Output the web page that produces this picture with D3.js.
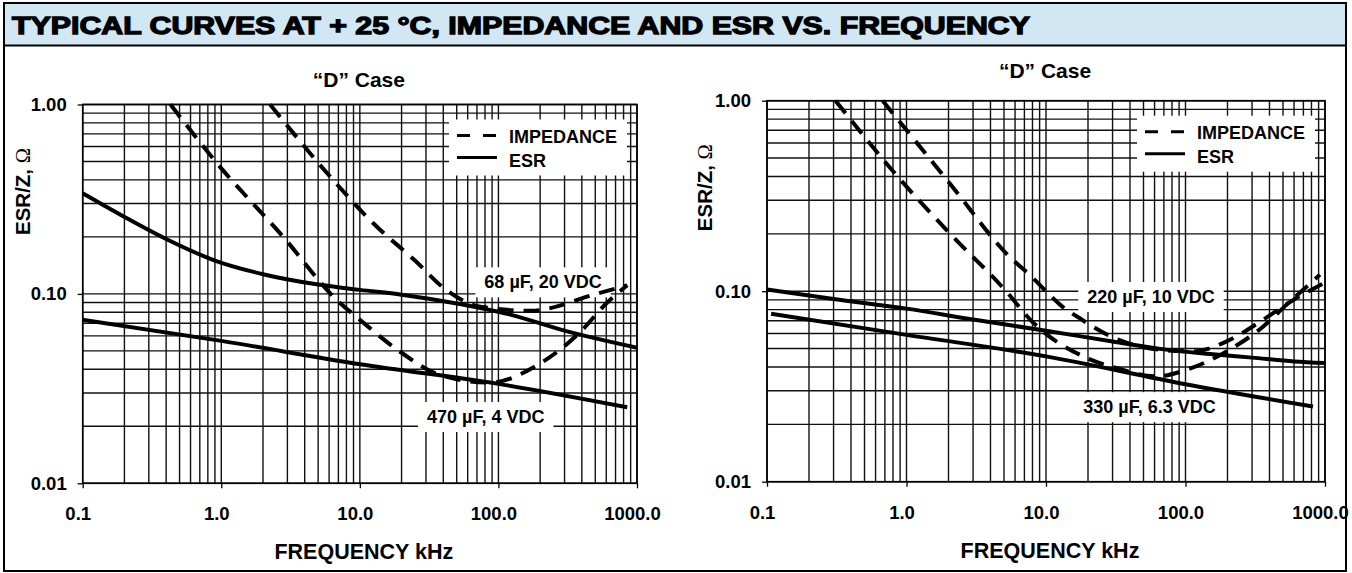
<!DOCTYPE html>
<html>
<head>
<meta charset="utf-8">
<script src="https://cdn.jsdelivr.net/npm/d3@7"></script>
<style>
	body{margin:0;background:#fff;}
	text{font-family:"Liberation Sans",Arial,Helvetica,sans-serif;font-weight:bold;fill:#000;}
</style>
</head>
<body>
<div id="chart"></div>
<script>
var titleText = "TYPICAL CURVES AT + 25 °C, IMPEDANCE AND ESR VS. FREQUENCY";
var caseTitle = "\u201cD\u201d Case";
var xTitle = "FREQUENCY kHz";
var legendNames = ["IMPEDANCE", "ESR"];

var xTicks = [0.1, 1, 10, 100, 1000];
var xTickLabels = ["0.1", "1.0", "10.0", "100.0", "1000.0"];
var yTicks = [0.01, 0.1, 1];
var yTickLabels = ["0.01", "0.10", "1.00"];

// left chart: [frequency kHz, ohms]
var z470 = [[0.43,1.0],[0.93,0.49],[2.8,0.2],[6.8,0.093],[10,0.073],[19.5,0.0495],[38,0.0373],[87,0.034],[190,0.042],[390,0.063],[600,0.089],[850,0.111]];
var z68 = [[2.25,1.0],[6.4,0.4],[12.5,0.236],[25,0.15],[42,0.105],[74,0.0856],[170,0.0815],[510,0.1],[850,0.111]];
var esr68 = [[0.1,0.34],[0.2,0.255],[0.4,0.195],[0.9,0.15],[2,0.127],[5,0.112],[10,0.105],[20,0.099],[50,0.089],[120,0.078],[300,0.064],[1000,0.052]];
var esr470 = [[0.1,0.073],[1,0.0565],[10,0.0425],[100,0.0335],[850,0.0252]];
var leftLabels = [
	{text:"68 \u00b5F, 20 VDC", f:210, v:0.107},
	{text:"470 \u00b5F, 4 VDC", f:81, v:0.0208}
];

// right chart
var z330 = [[0.31,1.0],[0.84,0.409],[2.03,0.202],[5.17,0.1],[7.7,0.071],[19.6,0.0446],[32,0.0395],[62,0.0357],[102,0.0387],[197,0.0483],[361,0.0653],[531,0.085],[920,0.122]];
var z220 = [[0.675,1.0],[2.03,0.37],[5.46,0.152],[8,0.118],[10,0.1],[12.6,0.085],[18,0.071],[29,0.058],[65,0.0493],[113,0.0483],[197,0.0545],[361,0.0709],[593,0.09],[1000,0.111]];
var esr220 = [[0.1,0.102],[0.3,0.091],[1,0.081],[3,0.071],[10,0.062],[30,0.0545],[70,0.0495],[150,0.0468],[300,0.0448],[600,0.0428],[1000,0.042]];
var esr330 = [[0.107,0.0762],[1,0.059],[10,0.0455],[100,0.0325],[820,0.0248]];
var rightLabels = [
	{text:"220 \u00b5F, 10 VDC", f:56.6, v:0.0867},
	{text:"330 \u00b5F, 6.3 VDC", f:55.2, v:0.0229}
];

(function(){
	var width = 1352,
	height = 573;

	var svg = d3.select("#chart")
	.append("svg")
	.attr("width", width)
	.attr("height", height)

	// header band
	svg.append("rect")
		.attr("x", 4).attr("y", 3)
		.attr("width", 1342).attr("height", 42)
		.attr("fill", "#d2e7f4")

	// outer frame
	svg.append("rect")
		.attr("x", 4).attr("y", 3)
		.attr("width", 1342).attr("height", 568)
		.attr("fill", "none")
		.attr("stroke", "#000").attr("stroke-width", 2)

	svg.append("line")
		.attr("x1", 4).attr("x2", 1346)
		.attr("y1", 45.5).attr("y2", 45.5)
		.attr("stroke", "#000").attr("stroke-width", 2)
	svg.append("text")
		.attr("x", 12).attr("y", 34)
		.attr("font-size", 24)
		.attr("textLength", 1018)
		.attr("lengthAdjust", "spacingAndGlyphs")
		.style("font-weight", 900)
		.style("stroke", "#000").style("stroke-width", 1.3)
		.text(titleText)

	var panels = [
		{x:82.7, y:104.5, w:554.3, h:378.8, titleDy:-17.5, ytx:-53,
			imp:[z470, z68], esr:[esr68, esr470], labels:leftLabels},
		{x:767, y:100.7, w:558, h:381, titleDy:-22.7, ytx:-55,
			imp:[z330, z220], esr:[esr220, esr330], labels:rightLabels}
	]

	panels.forEach(drawPanel)

	function drawPanel(p) {
		var g = svg.append("g")
			.attr("transform", "translate(" + p.x + "," + p.y + ")")

		var x = d3.scaleLog().domain([0.1, 1000]).range([0, p.w])
		var y = d3.scaleLog().domain([0.01, 1]).range([p.h, 0])

		// grid lines at 1..9 of every decade
		g.selectAll(".vgrid")
			.data(x.ticks())
			.enter().append("line")
			.attr("class", "vgrid")
			.attr("x1", function(d){ return x(d) })
			.attr("x2", function(d){ return x(d) })
			.attr("y1", 0).attr("y2", p.h)
			.attr("stroke", "#111").attr("stroke-width", 1.4)

		g.selectAll(".hgrid")
			.data(y.ticks())
			.enter().append("line")
			.attr("class", "hgrid")
			.attr("y1", function(d){ return y(d) })
			.attr("y2", function(d){ return y(d) })
			.attr("x1", 0).attr("x2", p.w)
			.attr("stroke", "#111").attr("stroke-width", 1.4)

		g.append("rect")
			.attr("width", p.w).attr("height", p.h)
			.attr("fill", "none")
			.attr("stroke", "#000").attr("stroke-width", 1.6)

		// axes
		var yAxis = g.append("g")
			.call(d3.axisLeft(y)
				.tickValues(yTicks)
				.tickFormat(function(d, i){ return yTickLabels[i] })
				.tickSize(5).tickPadding(11))
		yAxis.select(".domain").remove()

		var xAxis = g.append("g")
			.attr("transform", "translate(0," + p.h + ")")
			.call(d3.axisBottom(x)
				.tickValues(xTicks)
				.tickFormat(function(d, i){ return xTickLabels[i] })
				.tickSize(5).tickPadding(19))
		xAxis.select(".domain").remove()
		xAxis.selectAll("text").attr("dx", -5)

		g.selectAll(".tick line").attr("stroke", "#000").attr("stroke-width", 1.3)
		g.selectAll(".tick text")
			.attr("font-family", null)
			.style("font-size", "18.5px")
			.attr("fill", "#000")

		// titles
		g.append("text")
			.attr("x", p.w/2 - 1).attr("y", p.titleDy)
			.attr("text-anchor", "middle")
			.style("font-size", "21px")
			.text(caseTitle)

		g.append("text")
			.attr("x", p.w/2 + 4).attr("y", p.h + 76)
			.attr("text-anchor", "middle")
			.style("font-size", "21.5px")
			.text(xTitle)

		var yt = g.append("text")
			.attr("transform", "translate(" + p.ytx + ",87) rotate(-90)")
			.attr("text-anchor", "middle")
			.style("font-size", "20.5px")
		yt.append("tspan").text("ESR/Z, ")
		yt.append("tspan")
			.style("font-family", "'Liberation Serif','DejaVu Serif',serif")
			.style("font-weight", "normal")
			.text("\u03a9")

		// legend
		var lg = g.append("g")
			.attr("transform", "translate(" + (p.w - 188) + ",15)")
		lg.append("rect")
			.attr("width", 178).attr("height", 56)
			.attr("fill", "#fff")
		lg.selectAll(".lgline")
			.data(legendNames)
			.enter().append("line")
			.attr("x1", 8).attr("x2", 48)
			.attr("y1", function(d, i){ return 16 + i*22 })
			.attr("y2", function(d, i){ return 16 + i*22 })
			.attr("stroke", "#000").attr("stroke-width", 3)
			.attr("stroke-dasharray", function(d, i){ return i == 0 ? "13,13" : null })
		lg.selectAll(".lgtext")
			.data(legendNames)
			.enter().append("text")
			.attr("x", 60)
			.attr("y", function(d, i){ return 23 + i*24 })
			.style("font-size", "18px")
			.text(function(d){ return d })

		// part labels on white boxes
		p.labels.forEach(function(l){
			var lbl = g.append("g")
			var t = lbl.append("text")
				.attr("x", x(l.f)).attr("y", y(l.v))
				.attr("text-anchor", "middle")
				.style("font-size", "18px")
				.text(l.text)
			var b = t.node().getBBox()
			lbl.insert("rect", "text")
				.attr("x", b.x - 9).attr("y", b.y - 5)
				.attr("width", b.width + 18).attr("height", b.height + 10)
				.attr("fill", "#fff")
		})

		// curves
		var line = d3.line()
			.x(function(d){ return x(d[0]) })
			.y(function(d){ return y(d[1]) })
			.curve(d3.curveMonotoneX)

		g.selectAll(".esr")
			.data(p.esr)
			.enter().append("path")
			.attr("class", "esr")
			.attr("d", line)
			.attr("fill", "none")
			.attr("stroke", "#000").attr("stroke-width", 4)

		g.selectAll(".imp")
			.data(p.imp)
			.enter().append("path")
			.attr("class", "imp")
			.attr("d", line)
			.attr("fill", "none")
			.attr("stroke", "#000").attr("stroke-width", 4)
			.attr("stroke-dasharray", "16,10")
	}
})();
</script>
</body>
</html>
